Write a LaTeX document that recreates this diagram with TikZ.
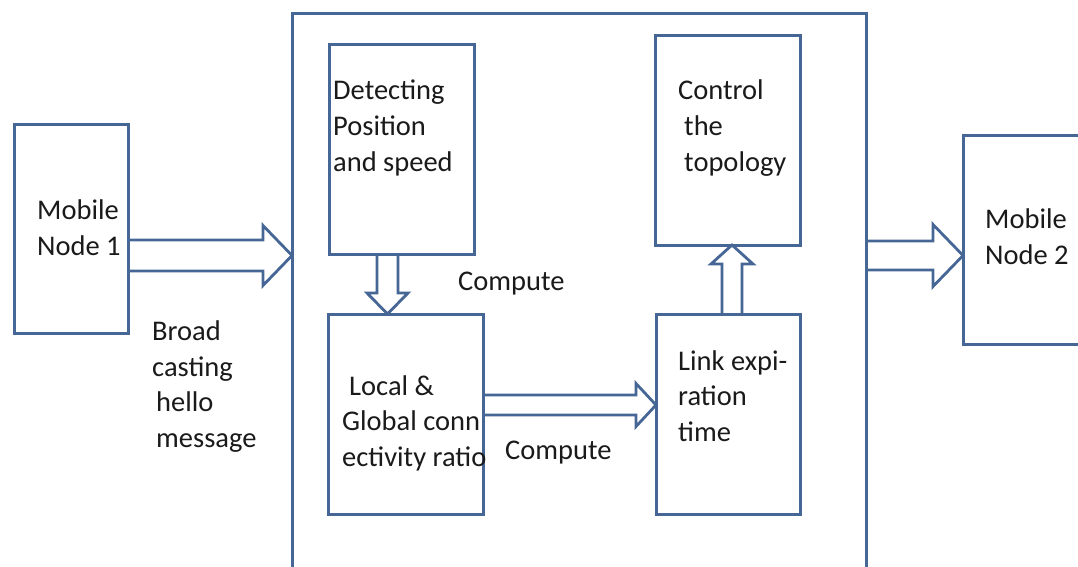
\documentclass[tikz,border=0pt]{standalone}
\usepackage{fontspec}
\setmainfont{Carlito}
\usetikzlibrary{calc}
\definecolor{boxblue}{HTML}{466796}
\definecolor{ink}{HTML}{1A1A1A}

% horizontal block arrow: start, end, half shaft, half head, head length
\newcommand\blockarrowh[5]{%
  \draw[barrow] let \p1=(#1), \p2=(#2), \n1={sign(\x2-\x1)} in
    (\x1,\y1+#3) -- (\x2-\n1*#5,\y1+#3) -- (\x2-\n1*#5,\y1+#4) -- (\x2,\y1)
    -- (\x2-\n1*#5,\y1-#4) -- (\x2-\n1*#5,\y1-#3) -- (\x1,\y1-#3);}
% vertical block arrow: start, end, half shaft, half head, head length
\newcommand\blockarrowv[5]{%
  \draw[barrow] let \p1=(#1), \p2=(#2), \n1={sign(\y2-\y1)} in
    (\x1-#3,\y1) -- (\x1-#3,\y2-\n1*#5) -- (\x1-#4,\y2-\n1*#5) -- (\x1,\y2)
    -- (\x1+#4,\y2-\n1*#5) -- (\x1+#3,\y2-\n1*#5) -- (\x1+#3,\y1);}

\begin{document}
\begin{tikzpicture}[x=1pt,y=-1pt,
  box/.style={draw=boxblue, line width=3pt, fill=white, inner sep=0pt, outer sep=0pt},
  barrow/.style={draw=boxblue, line width=2.8pt, line join=miter},
  label/.style={text=ink, anchor=base west, inner sep=0pt, align=left,
    font=\fontsize{28.5}{35.5}\selectfont}]
\useasboundingbox (0,0) rectangle (1078,567);
\clip (0,0) rectangle (1078,567);

% blocks
\node[box, minimum width=574pt, minimum height=606pt] (big) at (579,317) {};
\node[box, minimum width=114pt, minimum height=208pt] (n1) at (71,229) {};
\node[box, minimum width=147pt, minimum height=209pt] (n2) at (1036.5,239.5) {};
\node[box, minimum width=145pt, minimum height=209pt] (det) at (401.5,149.5) {};
\node[box, minimum width=145pt, minimum height=209pt] (ctl) at (727.5,140.5) {};
\node[box, minimum width=155pt, minimum height=200pt] (loc) at (405.5,414) {};
\node[box, minimum width=144pt, minimum height=200pt] (lnk) at (728,414) {};

% arrow anchor points
\coordinate (a1s) at (n1.east |- 0,255.5);
\coordinate (a1e) at (big.west |- a1s);
\coordinate (a2s) at (big.east |- 0,255.5);
\coordinate (a2e) at (n2.west |- a2s);
\coordinate (a3s) at (det.south -| 387.5,0);
\coordinate (a3e) at (loc.north -| a3s);
\coordinate (a4s) at (loc.east |- 0,405);
\coordinate (a4e) at (lnk.west |- a4s);
\coordinate (a5s) at (lnk.north -| 732,0);
\coordinate (a5e) at (ctl.south -| a5s);

% block arrows
\blockarrowh{a1s}{a1e}{15.5}{30}{29}
\blockarrowh{a2s}{a2e}{14.5}{31}{30}
\blockarrowv{a3s}{a3e}{10.5}{20.5}{21}
\blockarrowh{a4s}{a4e}{10}{21.5}{20}
\blockarrowv{a5s}{a5e}{10}{21}{19}

% labels (positioned by the baseline of their last line)
\node[label] (t1) at (37,255) {Mobile\\Node 1};
\node[label] (t2) at (152,447) {Broad\\casting\\\hspace*{4pt}hello\\\hspace*{4pt}message};
\node[label] (t3) at (333,171) {Detecting\\Position\\and speed};
\node[label] (t4) at (678,171) {Control\\\hspace*{6pt}the\\\hspace*{6pt}topology};
\node[label] (t5) at (458,290) {Compute};
\node[label] (t6) at (342,466) {\hspace*{7pt}Local \&\\Global conn\\ectivity ratio};
\node[label] (t7) at (505,459) {Compute};
\node[label] (t8) at (678,441) {Link expi-\\ration\\time};
\node[label] (t9) at (985,264) {Mobile\\Node 2};
\end{tikzpicture}
\end{document}
